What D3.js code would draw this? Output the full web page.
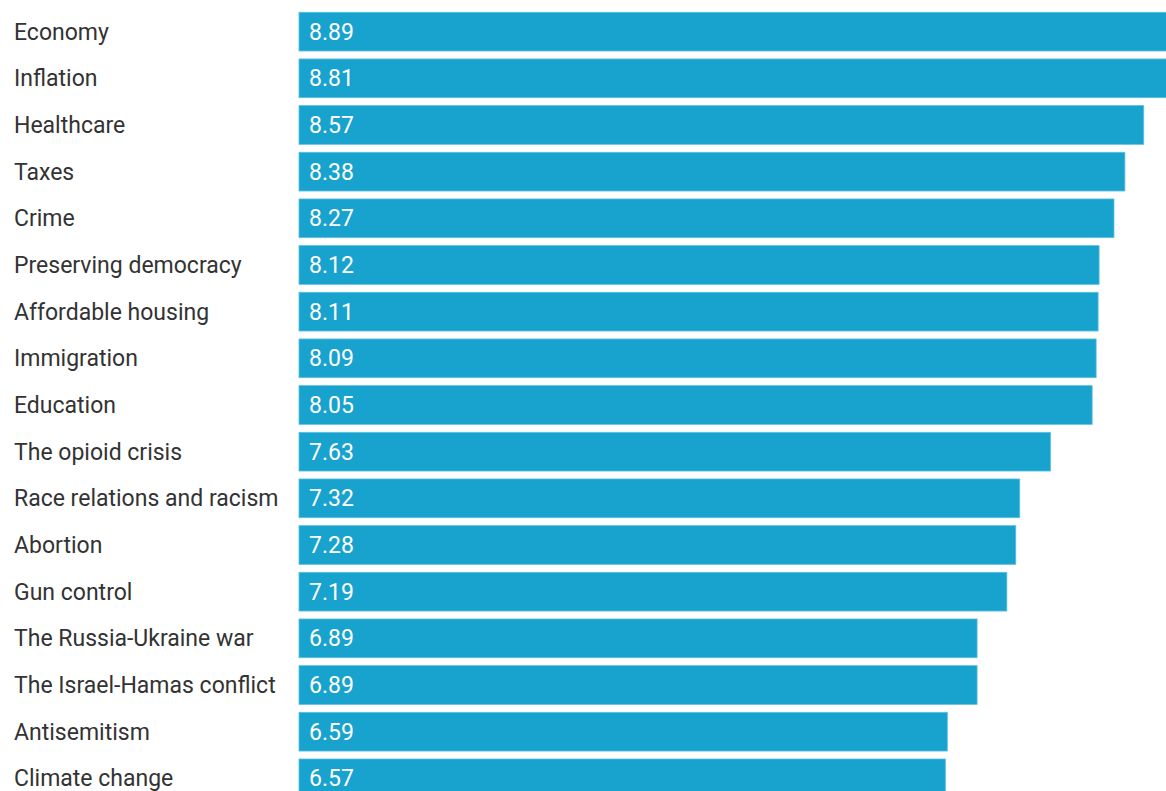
<!DOCTYPE html>
<meta charset="utf-8">
<style>
html,body{margin:0;padding:0;background:#fff;overflow:hidden;}
svg text{font-family:Roboto, "Noto Sans", sans-serif;}
</style>
<svg id="chart" width="1166" height="791"></svg>
<script src="https://cdn.jsdelivr.net/npm/d3@7"></script>
<script>
// issues, top to bottom, with their average importance score
const issues = ['Economy', 'Inflation', 'Healthcare', 'Taxes', 'Crime',
  'Preserving democracy', 'Affordable housing', 'Immigration', 'Education',
  'The opioid crisis', 'Race relations and racism', 'Abortion', 'Gun control',
  'The Russia-Ukraine war', 'The Israel-Hamas conflict', 'Antisemitism', 'Climate change']
const scores = [8.89, 8.81, 8.57, 8.38, 8.27, 8.12, 8.11, 8.09, 8.05,
  7.63, 7.32, 7.28, 7.19, 6.89, 6.89, 6.59, 6.57]

const data = issues.map((name, i) => ({name, value: scores[i]}))

const svg = d3.select('#chart')
const left = 299
const FONT = 23

// the plot is wider than the window, so the top bars run off the right edge
const x = d3.scaleLinear().domain([0, 10]).range([left - 5.4, left - 5.4 + 992])
const y = d3.scaleBand().domain(issues)
    .range([8.3, 8.3 + issues.length * 46.67])
    .paddingInner(0.17).paddingOuter(0.085)

const rows = svg.selectAll('g.row').data(data).join('g')
    .attr('class', 'row')
    .attr('transform', d => `translate(0,${y(d.name)})`)

rows.append('rect')
    .attr('x', left)
    .attr('width', d => x(d.value) - left)
    .attr('height', y.bandwidth())
    .attr('fill', '#18a2ce')
    .attr('stroke', '#5cc0e2')
    .attr('stroke-width', 0.8)

rows.append('text')
    .attr('x', 14)
    .attr('y', y.bandwidth() / 2)
    .attr('dy', '0.35em')
    .attr('fill', '#333')
    .style('font-size', FONT + 'px')
    .text(d => d.name)

rows.append('text')
    .attr('x', left + 10)
    .attr('y', y.bandwidth() / 2)
    .attr('dy', '0.35em')
    .attr('fill', '#fff')
    .style('font-size', FONT + 'px')
    .text(d => d3.format('.2f')(d.value))
</script>
